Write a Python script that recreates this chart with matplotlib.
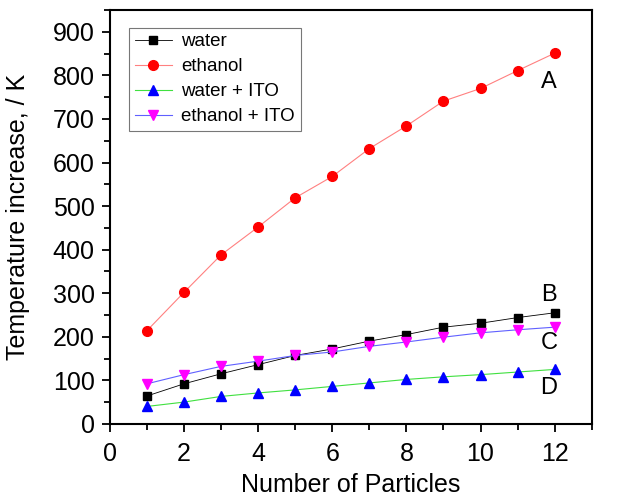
import numpy as np
import matplotlib
matplotlib.use("Agg")
import matplotlib.pyplot as plt
from matplotlib.ticker import MultipleLocator

plt.rcParams['font.family'] = ['Liberation Sans', 'DejaVu Sans']

particles = np.arange(1, 13)
water = [64, 92, 115, 136, 157, 172, 190, 205, 222, 231, 244, 255]
ethanol = [214, 302, 388, 452, 519, 568, 632, 684, 741, 770, 811, 851]
water_ito = [40, 50, 63, 71, 78, 86, 94, 102, 108, 113, 119, 125]
ethanol_ito = [92, 113, 132, 144, 157, 165, 178, 188, 199, 209, 216, 222]

curve_tags = ["A", "B", "C", "D"]
tag_y = [785, 296, 186, 83]

fig = plt.figure(figsize=(6.39, 5.04), dpi=100)
ax = fig.add_axes([0.172, 0.159, 0.754, 0.821])

ax.plot(particles, water, color="black", lw=0.6, marker="s", ms=5.5, mfc="black", mec="black", label="water")
ax.plot(particles, ethanol, color="#ff8080", lw=0.8, marker="o", ms=7, mfc="red", mec="red", label="ethanol")
ax.plot(particles, water_ito, color="#40e040", lw=0.8, marker="^", ms=7.5, mfc="blue", mec="blue", label="water + ITO")
ax.plot(particles, ethanol_ito, color="#6060ff", lw=0.8, marker="v", ms=7.5, mfc="magenta", mec="magenta", label="ethanol + ITO")

# curve labels
for t, yv in zip(curve_tags, tag_y):
    ax.text(11.85, yv, t, fontsize=17, ha="center", va="center")

ax.set_xlim(0, 13)
ax.set_ylim(0, 950)
ax.xaxis.set_major_locator(MultipleLocator(2))
ax.xaxis.set_minor_locator(MultipleLocator(1))
ax.yaxis.set_major_locator(MultipleLocator(100))
ax.yaxis.set_minor_locator(MultipleLocator(50))
ax.tick_params(which="major", direction="out", length=6, width=1.3, labelsize=18)
ax.tick_params(axis="x", which="major", pad=7)
ax.tick_params(axis="y", which="major", pad=5)
ax.tick_params(which="minor", direction="out", length=4, width=1.3)
for s in ax.spines.values():
    s.set_linewidth(1.5)

ax.set_xlabel("Number of Particles", fontsize=18, labelpad=5)
ax.set_ylabel("Temperature increase, / K", fontsize=18, labelpad=16)

leg = ax.legend(loc="upper left", bbox_to_anchor=(0.02, 0.98), fontsize=13.5, fancybox=False,
                edgecolor="#555555", handlelength=2.0, borderpad=0.3, labelspacing=0.42, handletextpad=0.5)
leg.get_frame().set_linewidth(0.8)

fig.savefig("out.png", dpi=100)
